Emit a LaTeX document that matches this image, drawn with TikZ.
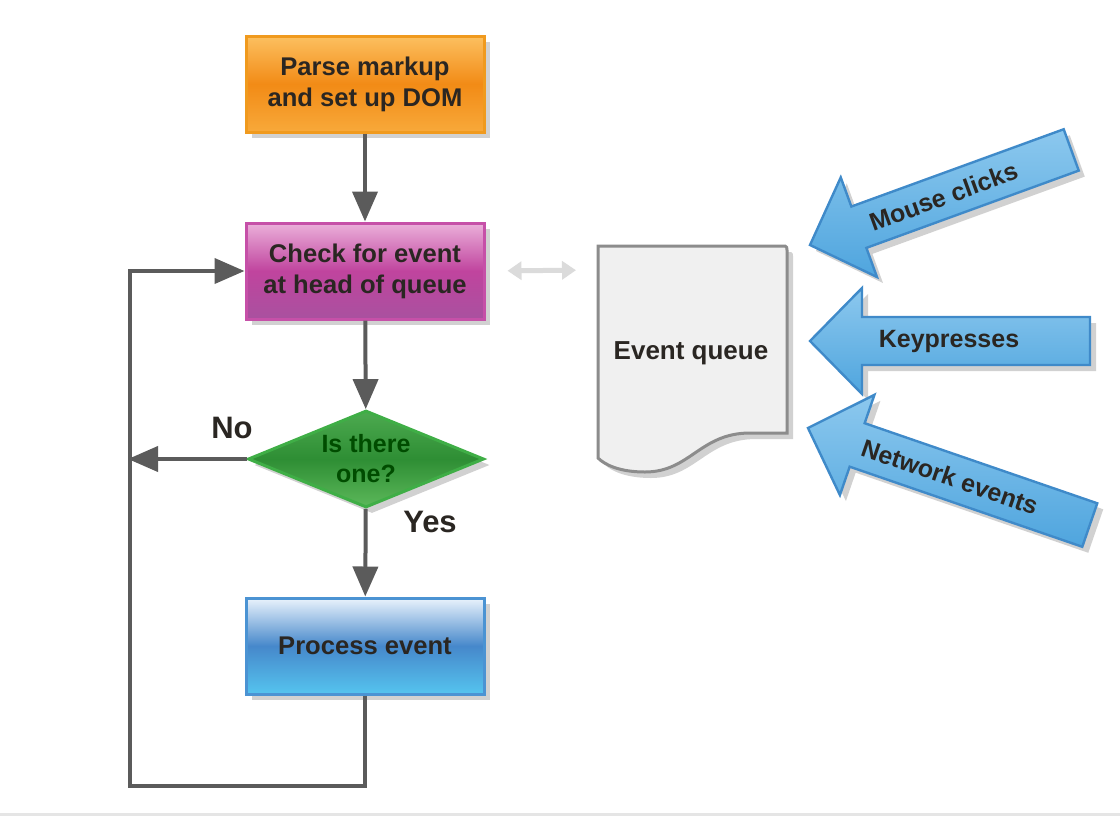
\documentclass[tikz,border=0pt]{standalone}
\usepackage{fontspec}
\setmainfont{Liberation Sans}
\usetikzlibrary{shapes.geometric,shadows,arrows.meta}
\definecolor{txt}{HTML}{2A2622}
\definecolor{flowgray}{HTML}{5B5B5B}
\definecolor{orT}{HTML}{FCC060}\definecolor{orM}{HTML}{F28B16}\definecolor{orB}{HTML}{F8A93A}\definecolor{orD}{HTML}{F09A1E}
\definecolor{pkT}{HTML}{EBB0DA}\definecolor{pkM}{HTML}{C0449E}\definecolor{pkB}{HTML}{A9519F}\definecolor{pkD}{HTML}{C650A8}
\definecolor{grT}{HTML}{4DAA50}\definecolor{grM}{HTML}{2E8E34}\definecolor{grB}{HTML}{5CB85A}\definecolor{grD}{HTML}{3FAE46}
\definecolor{blT}{HTML}{EAF3FC}\definecolor{blM}{HTML}{4688CB}\definecolor{blB}{HTML}{55C4EF}\definecolor{blD}{HTML}{4B93D3}
\definecolor{arT}{HTML}{8CC8EE}\definecolor{arB}{HTML}{4FA5DE}\definecolor{arD}{HTML}{3F8AC9}
\tikzset{
  shd/.style={drop shadow={shadow xshift=3pt,shadow yshift=-3pt,opacity=0.3,fill=black!60}},
  boxbase/.style={rectangle,minimum width=119pt,minimum height=48pt,align=center,
     font=\fontsize{12.8}{15.5}\selectfont\bfseries,text=txt,line width=1.5pt,shd},
  orangebox/.style={boxbase,draw=orD,top color=orT,bottom color=orB,middle color=orM},
  pinkbox/.style={boxbase,draw=pkD,top color=pkT,bottom color=pkB,middle color=pkM},
  bluebox/.style={boxbase,draw=blD,top color=blT,bottom color=blB,middle color=blM},
  decbox/.style={diamond,aspect=2.43,minimum width=118pt,minimum height=48.5pt,inner sep=0pt,
     align=center,font=\fontsize{12.5}{15}\selectfont\bfseries,text=black!70!green,line width=1.5pt,
     draw=grD,top color=grT,bottom color=grB,middle color=grM,shd},
  flow/.style={draw=flowgray,line width=2pt,-{Triangle[length=15pt,width=12.5pt]}},
  bigarrow/.style={draw=arD,line width=1.2pt,top color=arT,bottom color=arB,shd},
  lbl/.style={font=\fontsize{15.5}{18}\selectfont\bfseries,text=txt},
  arrlbl/.style={font=\fontsize{12.5}{15}\selectfont\bfseries,text=txt,transform shape}
}
\begin{document}
\begin{tikzpicture}[x=0.5pt,y=-0.5pt]
\useasboundingbox (0,0) rectangle (1120,816);
\fill[black!10] (0,813) rectangle (1120,816);

% flowchart nodes
\node[orangebox] (parse) at (365,84) {Parse markup\\and set up DOM};
\node[pinkbox] (check) at (365,271) {Check for event\\at head of queue};
\node[decbox] (dec) at (366,459) {Is there\\one?};
\node[bluebox] (proc) at (365,646) {Process event};

\coordinate (lb) at (130,786);

\draw[flow] (parse) -- (check);
\draw[flow] (check) -- (dec);
\draw[flow] (dec) -- (proc);
\draw[flow,line join=miter] (proc.south) |- (lb) |- (check.west);
\draw[flow,shorten >=-1pt] (dec.west) -- (dec.west -| lb);

\node[lbl] (no) at (232,428) {No};
\node[lbl] (yes) at (430,522) {Yes};

% event queue document
\draw[draw=black!45,line width=1.5pt,fill=black!6,shd]
  (598,246) -- (785,246) to[out=0,in=90] (787,250) -- (787,433) -- (750,433)
  .. controls (700,433) and (690,472) .. (645,472)
  .. controls (620,472) and (605,465) .. (598,458) -- cycle;
\node[font=\fontsize{13}{15}\selectfont\bfseries,text=txt] (queue) at (691,353) {Event queue};
\coordinate (qw) at (598,270);
\draw[draw=black!14,line width=2.5pt,{Triangle[length=7pt,width=9pt]}-{Triangle[length=7pt,width=9pt]},shorten <=11pt,shorten >=11pt] (check.east) -- (qw);

% input arrows
\begin{scope}[shift={(810,245)},rotate=20]
  \draw[bigarrow] (0,0) -- (52,-53) -- (52,-22) -- (278,-22) -- (278,22) -- (52,22) -- (52,53) -- cycle;
  \node[arrlbl] (mouse) at (142,0) {Mouse clicks};
\end{scope}
\begin{scope}[shift={(810,341)}]
  \draw[bigarrow] (0,0) -- (52,-53) -- (52,-24) -- (280,-24) -- (280,24) -- (52,24) -- (52,53) -- cycle;
  \node[arrlbl] (keys) at (139,0) {Keypresses};
\end{scope}
\begin{scope}[shift={(808,428)},rotate=-19]
  \draw[bigarrow] (0,0) -- (52,-53) -- (52,-23) -- (298,-23) -- (298,23) -- (52,23) -- (52,53) -- cycle;
  \node[arrlbl] (net) at (150,0) {Network events};
\end{scope}
\end{tikzpicture}
\end{document}
